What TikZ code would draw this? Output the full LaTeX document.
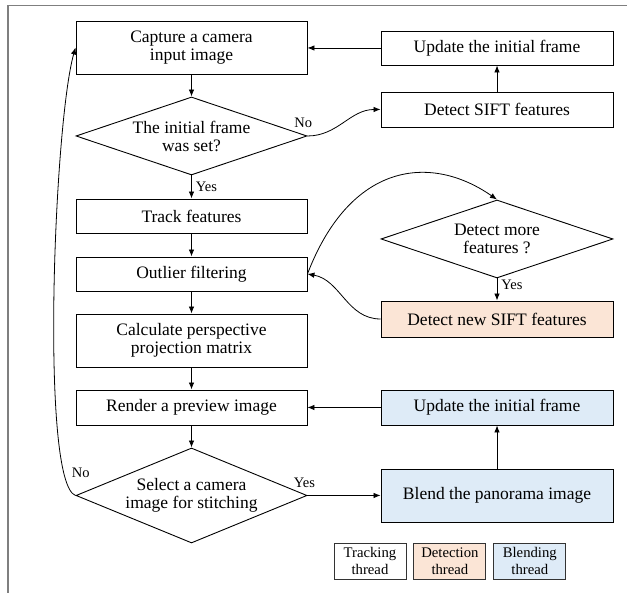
\documentclass[tikz,border=0pt]{standalone}
\usepackage{fontspec}
\setmainfont{Liberation Serif}
\usepackage{tikz}
\usetikzlibrary{positioning,arrows.meta,shapes.geometric}
\definecolor{FCPeach}{HTML}{FBE5D6}
\definecolor{FCBlue}{HTML}{DEEBF7}
\definecolor{FCFrame}{HTML}{7F7F7F}

\begin{document}
\begin{tikzpicture}[x=1pt,y=1pt]
  \tikzset{
    fcbox/.style={
      draw=black,
      line width=0.9pt,
      fill=white,
      align=center,
      inner sep=0pt,
      minimum width=231pt,
      font=\fontsize{17.5}{18}\selectfont
    },
    fcdecide/.style={fcbox,shape=diamond,aspect=2.96},
    fcdetect/.style={fcbox,fill=FCPeach},
    fcblend/.style={fcbox,fill=FCBlue},
    fckey/.style={
      draw=black!80,
      line width=0.9pt,
      align=center,
      inner sep=0pt,
      minimum width=72pt,
      minimum height=36pt,
      font=\fontsize{14.7}{16.5}\selectfont
    },
    fcarrow/.style={
      -{Latex[length=7pt,width=5.5pt]},
      draw=black,
      line width=0.8pt
    },
    fclabel/.style={font=\fontsize{14.5}{15}\selectfont,inner sep=1pt},
    fcframe/.style={draw=FCFrame,line width=1.6pt}
  }
  \useasboundingbox (0,0) rectangle (627,593);
  \draw[fcframe] (8,0) -- (8,587.5) -- (627,587.5);

  % ------------------------------------------------------------------
  % Tracking thread (left column)
  % ------------------------------------------------------------------
  \node[fcbox,minimum height=53pt] (capture) at (191.5,545.5)
    {Capture a camera\\input image};
  \node[fcdecide,minimum height=78pt] (initset) at (191.5,457)
    {The initial frame\\was set?};
  \node[fcbox,minimum height=34pt] (track) at (191.5,377) {Track features};
  \node[fcbox,minimum height=34pt] (outlier) at (191.5,319) {Outlier filtering};
  \node[fcbox,minimum height=53pt] (persp) at (191.5,252.5)
    {Calculate perspective\\projection matrix};
  \node[fcbox,minimum height=35pt] (render) at (191.5,185.5) {Render a preview image};
  \node[fcdecide,aspect=2.43,minimum height=95pt] (select) at (191.5,97.5)
    {Select a camera\\image for stitching};

  % ------------------------------------------------------------------
  % Detection and blending threads (right column)
  % ------------------------------------------------------------------
  \node[fcbox,minimum width=232pt,minimum height=34pt] (update) at (497,545)
    {Update the initial frame};
  \node[fcbox,minimum width=232pt,minimum height=35pt] (sift) at (497,483.5)
    {Detect SIFT features};
  \node[fcdecide,minimum width=232pt,minimum height=78pt] (more) at (497,354)
    {Detect more\\features ?};
  \node[fcdetect,minimum width=232pt,minimum height=36pt] (newsift) at (497,274)
    {Detect new SIFT features};
  \node[fcblend,minimum width=232pt,minimum height=35pt] (updateb) at (497,185.5)
    {Update the initial frame};
  \node[fcblend,minimum width=232pt,minimum height=53pt] (blend) at (497,97.5)
    {Blend the panorama image};

  % Thread key.
  \node[fckey,fill=white] (keytrack) at (370,32) {Tracking\\thread};
  \node[fckey,fill=FCPeach,right=7pt of keytrack] (keydetect) {Detection\\thread};
  \node[fckey,fill=FCBlue,right=7pt of keydetect] (keyblend) {Blending\\thread};

  % ------------------------------------------------------------------
  % Connectors
  % ------------------------------------------------------------------
  \draw[fcarrow] (capture) -- (initset);
  \draw[fcarrow] (initset) -- node[fclabel,right,xshift=3pt]{Yes} (track);
  \draw[fcarrow] (track) -- (outlier);
  \draw[fcarrow] (outlier) -- (persp);
  \draw[fcarrow] (persp) -- (render);
  \draw[fcarrow] (render) -- (select);

  \draw[fcarrow] (initset.east) to[out=0,in=180]
    node[fclabel,pos=0,anchor=south east,xshift=6pt,yshift=7pt]{No} (sift.west);
  \draw[fcarrow] (sift) -- (update);
  \draw[fcarrow] (update.west) -- (update.west -| capture.east);

  \draw[fcarrow] (outlier.east) .. controls (350,430) and (430,440) .. (more.north);
  \draw[fcarrow] (more) -- node[fclabel,right,pos=0.3,xshift=3pt]{Yes} (newsift);
  \draw[fcarrow] (newsift.west) to[out=180,in=-10] (outlier.east);

  \draw[fcarrow] (select.east) --
    node[fclabel,pos=0,anchor=south,xshift=-3pt,yshift=6pt]{Yes} (blend.west);
  \draw[fcarrow] (blend) -- (updateb);
  \draw[fcarrow] (updateb.west) -- (updateb.west -| render.east);

  \draw[fcarrow] (select.west) .. controls (40,110) and (54,470) ..
    node[fclabel,pos=0,anchor=south west,xshift=-5pt,yshift=16pt]{No} (capture.west);
\end{tikzpicture}
\end{document}
